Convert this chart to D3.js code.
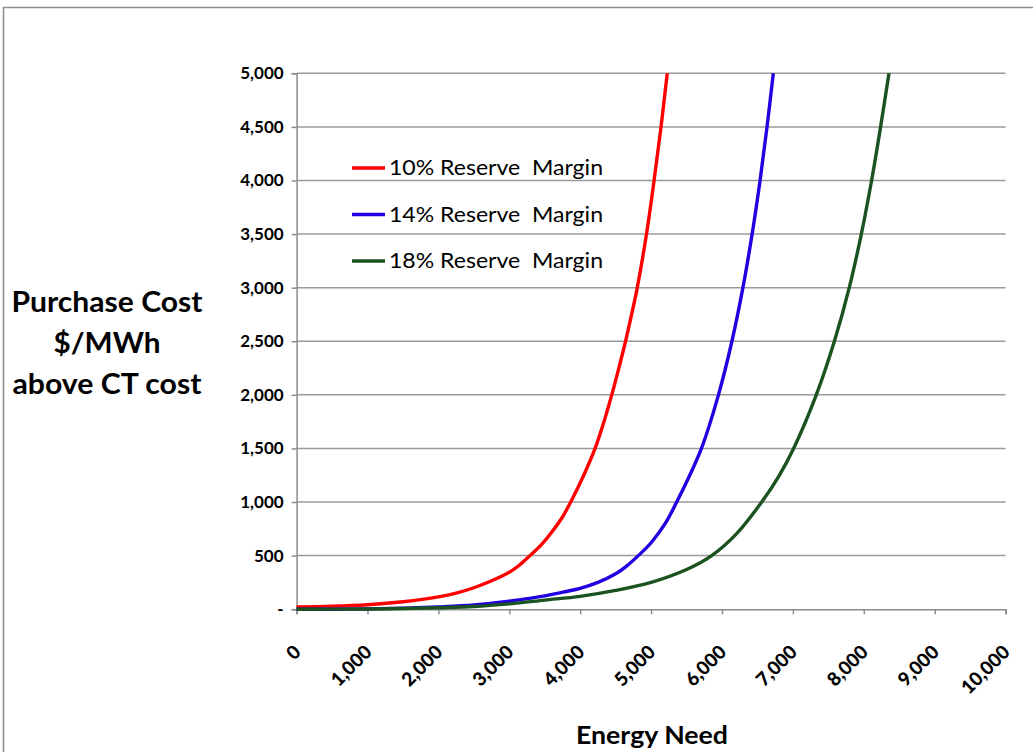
<!DOCTYPE html>
<html><head><meta charset="utf-8">
<script src="https://cdn.jsdelivr.net/npm/d3@7"></script>
<style>
body{margin:0;background:#fff;}
text{font-family:Lato,"Open Sans",sans-serif;}
</style></head>
<body><svg id="c" width="1033" height="752"></svg>
<script>
const seriesNames = ["10% Reserve  Margin","14% Reserve  Margin","18% Reserve  Margin"];
const seriesColors = ["#ff0000","#2000e0","#1a5220"];
const xTicks = [0,1000,2000,3000,4000,5000,6000,7000,8000,9000,10000];
const yTicks = [0,500,1000,1500,2000,2500,3000,3500,4000,4500,5000];
const red = [[0,20],[500,27],[1000,42],[1500,70],[2000,115],[2250,150],[2500,200],[2750,265],[3000,345],[3150,415],[3292,500],[3450,600],[3600,720],[3750,860],[3866,1000],[4050,1250],[4210,1500],[4335,1750],[4445,2000],[4545,2250],[4640,2500],[4725,2750],[4805,3000],[4935,3500],[5042,4000],[5140,4500],[5228,5000]];
const blue = [[0,0],[500,0],[1000,3],[1500,10],[2000,22],[2500,40],[3000,75],[3500,125],[3800,165],[4000,195],[4250,250],[4500,330],[4650,400],[4820,500],[5000,620],[5200,800],[5361,1000],[5545,1250],[5710,1500],[5950,2000],[6140,2500],[6295,3000],[6425,3500],[6537,4000],[6635,4500],[6724,5000]];
const green = [[0,0],[1000,2],[1500,6],[2000,14],[2500,25],[3000,50],[3500,85],[4000,120],[4500,175],[5000,250],[5500,370],[5855,500],[6200,700],[6560,1000],[6800,1240],[7010,1500],[7330,2000],[7585,2500],[7795,3000],[7965,3500],[8110,4000],[8237,4500],[8355,5000]];
const series = [red, blue, green];
const yTitle = ["Purchase Cost","$/MWh","above CT cost"];
const xTitle = "Energy Need";

const svg = d3.select("#c");
const x = d3.scaleLinear().domain([0,10000]).range([296.6,1005.6]);
const y = d3.scaleLinear().domain([0,5000]).range([609.2,73.3]);
const fmt = d3.format(",");

// outer border
svg.append("rect").attr("x",3.5).attr("y",7.5).attr("width",1040).attr("height",760)
  .attr("fill","none").attr("stroke","#8c8c8c").attr("stroke-width",1.5);

// gridlines
svg.append("g").selectAll("line").data(yTicks.filter(d=>d>0)).join("line")
  .attr("x1",x(0)).attr("x2",x(10000)).attr("y1",d=>y(d)).attr("y2",d=>y(d))
  .attr("stroke","#9a9a9a").attr("stroke-width",1.5);

// y axis
const yAxis = d3.axisLeft(y).tickValues(yTicks).tickSize(5).tickPadding(8)
  .tickFormat(d=> d===0 ? "-" : fmt(d));
const gy = svg.append("g").attr("transform",`translate(${x(0)},0)`).call(yAxis);
gy.select(".domain").attr("stroke","#8c8c8c").attr("stroke-width",1.5);
gy.selectAll(".tick line").attr("stroke","#8c8c8c").attr("stroke-width",1.5);
gy.selectAll(".tick text").attr("font-size",17).attr("font-weight","bold").attr("fill","#000")
  .attr("font-family","Lato, sans-serif");

// x axis
const xAxis = d3.axisBottom(x).tickValues(xTicks).tickSize(5).tickFormat(d=>fmt(d));
const gx = svg.append("g").attr("transform",`translate(0,${y(0)})`).call(xAxis);
gx.select(".domain").attr("stroke","#8c8c8c").attr("stroke-width",1.5);
gx.selectAll(".tick line").attr("stroke","#8c8c8c").attr("stroke-width",1.5);
gx.selectAll(".tick text").attr("font-size",19).attr("font-weight","900").attr("fill","#000")
  .attr("font-family","Lato, sans-serif")
  .attr("text-anchor","end").attr("dy",0).attr("y",0)
  .attr("transform","translate(5,44) rotate(-45)");

// lines
const line = d3.line().x(d=>x(d[0])).y(d=>y(d[1])).curve(d3.curveCatmullRom.alpha(0.5));
svg.append("g").selectAll("path").data(series).join("path")
  .attr("d",line).attr("fill","none")
  .attr("stroke",(d,i)=>seriesColors[i]).attr("stroke-width",3.4)
  .attr("stroke-linejoin","round");

// legend
const lg = svg.append("g");
const legY = [168,214.5,261];
seriesNames.forEach((n,i)=>{
  lg.append("line").attr("x1",352).attr("x2",385).attr("y1",legY[i]).attr("y2",legY[i])
    .attr("stroke",seriesColors[i]).attr("stroke-width",3.4);
  lg.append("text").attr("x",389).attr("y",legY[i]).attr("dy","0.35em")
    .attr("font-size",21).attr("fill","#000").attr("textLength",214).attr("lengthAdjust","spacingAndGlyphs")
    .style("white-space","pre").text(n);
});

// axis titles
svg.append("text").attr("x",652).attr("y",744).attr("text-anchor","middle")
  .attr("font-size",24).attr("font-weight","bold").attr("fill","#000")
  .attr("textLength",152).attr("lengthAdjust","spacingAndGlyphs").text(xTitle);
const yLens = [191,107,189];
yTitle.forEach((t,i)=>{
  svg.append("text").attr("x",107).attr("y",312+i*41).attr("text-anchor","middle")
    .attr("font-size",28).attr("font-weight","bold").attr("fill","#000")
    .attr("textLength",yLens[i]).attr("lengthAdjust","spacingAndGlyphs").text(t);
});
</script></body></html>
